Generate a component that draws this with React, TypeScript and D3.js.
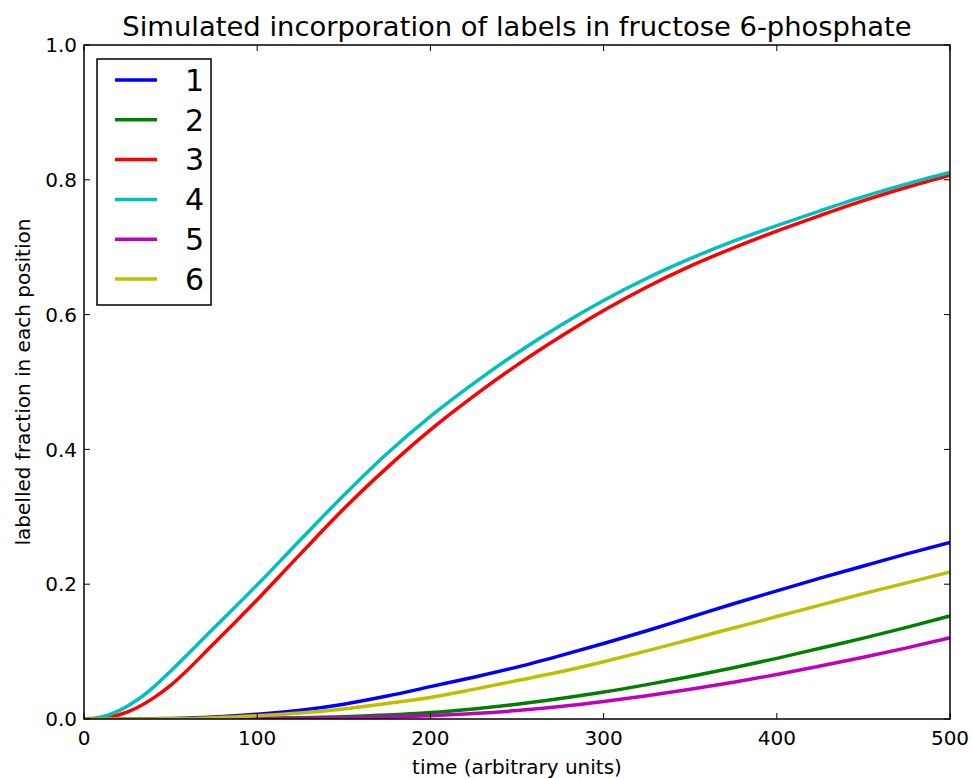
import { useEffect, useRef } from 'react';
import * as d3 from 'd3';

// sampled time points (arbitrary units)
const times = [0, 10, 20, 30, 40, 50, 75, 100, 125, 150, 175, 200, 225, 250, 275, 300, 325, 350, 375, 400, 425, 450, 475, 500];

// labelled fraction per carbon position
const pos1 = [0, 0, 0, 0.0001, 0.0003, 0.0008, 0.003, 0.007, 0.013, 0.022, 0.034, 0.048, 0.062, 0.077, 0.094, 0.112, 0.131, 0.151, 0.171, 0.190, 0.209, 0.227, 0.245, 0.262];
const pos2 = [0, 0, 0, 0, 0, 0.0001, 0.0004, 0.001, 0.002, 0.0035, 0.0058, 0.0095, 0.015, 0.022, 0.0305, 0.040, 0.051, 0.063, 0.076, 0.090, 0.105, 0.120, 0.136, 0.153];
const pos3 = [0, 0.001, 0.006, 0.016, 0.031, 0.050, 0.112, 0.177, 0.245, 0.312, 0.373, 0.429, 0.479, 0.525, 0.567, 0.606, 0.641, 0.672, 0.699, 0.724, 0.747, 0.769, 0.789, 0.807];
const pos4 = [0, 0.003, 0.012, 0.027, 0.047, 0.071, 0.135, 0.199, 0.266, 0.332, 0.394, 0.449, 0.498, 0.543, 0.584, 0.621, 0.654, 0.683, 0.709, 0.732, 0.754, 0.775, 0.794, 0.811];
const pos5 = [0, 0, 0, 0, 0, 0, 0.0001, 0.0004, 0.0008, 0.0015, 0.0028, 0.005, 0.008, 0.0125, 0.0185, 0.026, 0.0345, 0.044, 0.0545, 0.066, 0.0785, 0.0915, 0.1055, 0.1205];
const pos6 = [0, 0, 0, 0, 0.0001, 0.0004, 0.002, 0.005, 0.009, 0.015, 0.023, 0.032, 0.044, 0.057, 0.070, 0.085, 0.101, 0.118, 0.135, 0.152, 0.169, 0.186, 0.202, 0.218];

const seriesNames = ['1', '2', '3', '4', '5', '6'];
const seriesValues = [pos1, pos2, pos3, pos4, pos5, pos6];
const seriesColors = ['#0000ff', '#008000', '#ff0000', '#00bfbf', '#bf00bf', '#bfbf00'];

const xTicks = [0, 100, 200, 300, 400, 500];
const yTicks = [0, 0.2, 0.4, 0.6, 0.8, 1.0];

const W = 972;
const H = 779;
const FONT = 'DejaVu Sans, sans-serif';

export default function App() {
  const svgRef = useRef<SVGSVGElement>(null);

  useEffect(() => {
    if (!svgRef.current) return;
    const svg = d3.select(svgRef.current);
    svg.selectAll('*').remove();

    const left = 84, right = 950, top = 45, bottom = 719;
    const x = d3.scaleLinear().domain([0, 500]).range([left, right]);
    const y = d3.scaleLinear().domain([0, 1]).range([bottom, top]);

    svg.append('rect').attr('width', W).attr('height', H).attr('fill', '#fff');

    svg.append('defs').append('clipPath').attr('id', 'plotclip')
      .append('rect')
      .attr('x', left).attr('y', top)
      .attr('width', right - left).attr('height', bottom - top);

    // curves
    const line = d3.line<number>()
      .x((_, i) => x(times[i]))
      .y(d => y(d))
      .curve(d3.curveMonotoneX);

    const curves = svg.append('g').attr('clip-path', 'url(#plotclip)');
    seriesValues.forEach((vals, i) => {
      curves.append('path')
        .attr('d', line(vals))
        .attr('fill', 'none')
        .attr('stroke', seriesColors[i])
        .attr('stroke-width', 3.5);
    });

    // inward ticks on all four sides
    const tickLen = 6;
    const ticks = svg.append('g').attr('stroke', '#000').attr('stroke-width', 1);
    xTicks.forEach(t => {
      ticks.append('line').attr('x1', x(t)).attr('x2', x(t)).attr('y1', bottom).attr('y2', bottom - tickLen);
      ticks.append('line').attr('x1', x(t)).attr('x2', x(t)).attr('y1', top).attr('y2', top + tickLen);
    });
    yTicks.forEach(t => {
      ticks.append('line').attr('x1', left).attr('x2', left + tickLen).attr('y1', y(t)).attr('y2', y(t));
      ticks.append('line').attr('x1', right).attr('x2', right - tickLen).attr('y1', y(t)).attr('y2', y(t));
    });

    // frame
    svg.append('rect')
      .attr('x', left).attr('y', top)
      .attr('width', right - left).attr('height', bottom - top)
      .attr('fill', 'none').attr('stroke', '#000').attr('stroke-width', 1.5);

    // tick labels
    svg.append('g').selectAll('text').data(xTicks).enter().append('text')
      .attr('x', d => x(d)).attr('y', bottom + 26)
      .attr('text-anchor', 'middle')
      .style('font-family', FONT).style('font-size', '20px')
      .text(d => d3.format('d')(d));

    svg.append('g').selectAll('text').data(yTicks).enter().append('text')
      .attr('x', left - 7).attr('y', d => y(d))
      .attr('dy', '0.36em')
      .attr('text-anchor', 'end')
      .style('font-family', FONT).style('font-size', '20px')
      .text(d => d3.format('.1f')(d));

    // axis labels and title
    svg.append('text')
      .attr('x', (left + right) / 2).attr('y', 774)
      .attr('text-anchor', 'middle')
      .style('font-family', FONT).style('font-size', '20px')
      .text('time (arbitrary units)');

    svg.append('text')
      .attr('transform', `translate(30,${(top + bottom) / 2}) rotate(-90)`)
      .attr('text-anchor', 'middle')
      .style('font-family', FONT).style('font-size', '20px')
      .text('labelled fraction in each position');

    svg.append('text')
      .attr('x', (left + right) / 2).attr('y', 36)
      .attr('text-anchor', 'middle')
      .style('font-family', FONT).style('font-size', '27.4px')
      .text('Simulated incorporation of labels in fructose 6-phosphate');

    // legend
    const legend = svg.append('g');
    legend.append('rect')
      .attr('x', 97).attr('y', 59).attr('width', 114).attr('height', 246)
      .attr('fill', '#fff').attr('stroke', '#000').attr('stroke-width', 1.5);
    const rowY = d3.scaleLinear().domain([0, 5]).range([80, 279]);
    seriesNames.forEach((name, i) => {
      legend.append('line')
        .attr('x1', 115).attr('x2', 157)
        .attr('y1', rowY(i)).attr('y2', rowY(i))
        .attr('stroke', seriesColors[i]).attr('stroke-width', 3.5);
      legend.append('text')
        .attr('x', 185).attr('y', rowY(i)).attr('dy', '0.36em')
        .style('font-family', FONT).style('font-size', '30px')
        .text(name);
    });
  }, []);

  return (
    <svg ref={svgRef} width={W} height={H} style={{ position: 'absolute', left: 0, top: 0, display: 'block' }} />
  );
}
